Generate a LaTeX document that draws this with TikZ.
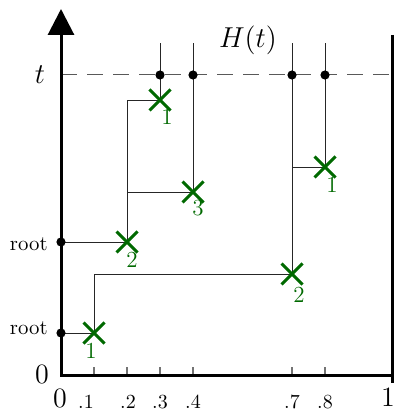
\documentclass[tikz,border=0pt]{standalone}
\usetikzlibrary{arrows.meta,shapes.misc}
\definecolor{tgreen}{RGB}{0,105,0}
\pgfdeclarelayer{bg}
\pgfsetlayers{bg,main}
\begin{document}
\begin{tikzpicture}[x=0.5pt,y=-0.5pt,
  xmark/.style={cross out,draw=tgreen,line width=1.5pt,inner sep=0pt,minimum size=9pt},
  hdot/.style={circle,fill=black,inner sep=0pt,minimum size=4.6pt},
  edge/.style={black!85,line width=0.45pt},
  tickline/.style={black!55,line width=0.6pt},
  axisline/.style={line width=1.5pt},
  glab/.style={text=tgreen,font=\fontsize{11.5}{13}\selectfont,anchor=base,inner sep=0pt},
  tlab/.style={font=\fontsize{10}{12}\selectfont,anchor=base,inner sep=0pt},
  biglab/.style={font=\fontsize{14}{16}\selectfont,anchor=base,inner sep=0pt},
  rootlab/.style={font=\fontsize{10.4}{12}\selectfont,anchor=base east,inner sep=0pt}]
\useasboundingbox (0,0) rectangle (395,410);

% axis coordinates
\coordinate (O) at (61,375);
\coordinate (Ytop) at (61,9);
\coordinate (Xend) at (392,375);
\coordinate (Rtop) at (392,35);
\coordinate (Rbot) at (392,383);
\coordinate (Dl) at (61,75);
\coordinate (Dr) at (392,75);

% crosses
\node[xmark] (c1) at (94,333) {};
\node[xmark] (c2) at (127,242) {};
\node[xmark] (c3) at (160,100) {};
\node[xmark] (c4) at (193,192) {};
\node[xmark] (c5) at (292,274) {};
\node[xmark] (c6) at (325,167) {};

% roots
\node[hdot] (r1) at (61,333) {};
\node[hdot] (r2) at (61,242) {};

% dots on the t line
\node[hdot] (h1) at (160,75) {};
\node[hdot] (h2) at (193,75) {};
\node[hdot] (h3) at (292,75) {};
\node[hdot] (h4) at (325,75) {};

% tops
\coordinate (u1) at (160,43);
\coordinate (u2) at (193,43);
\coordinate (u3) at (292,43);
\coordinate (u4) at (325,43);

% tick coordinates
\foreach \n/\x in {1/94,2/127,3/160,4/193,7/292,8/325}{
  \coordinate (tk\n) at (\x,375);
  \coordinate (tt\n) at (\x,367);
}

\begin{pgfonlayer}{bg}
  \draw[black!65,line width=0.5pt,dash pattern=on 8 off 5] (Dl) -- (Dr);
  \foreach \n in {1,2,3,4,7,8}{ \draw[tickline] (tk\n) -- (tt\n); }
  \draw[edge] (r1.center) -- (c1.center);
  \draw[edge] (c1.center) |- (c5.center);
  \draw[edge] (r2.center) -- (c2.center);
  \draw[edge] (c2.center) |- (c3.center);
  \draw[edge] (c2.center) |- (c4.center);
  \draw[edge] (c5.center) |- (c6.center);
  \draw[edge] (c3.center) -- (u1);
  \draw[edge] (c4.center) -- (u2);
  \draw[edge] (c5.center) -- (u3);
  \draw[edge] (c6.center) -- (u4);
\end{pgfonlayer}

\draw[axisline,-{Triangle[length=13pt,width=13pt]}] ([yshift=-0.75pt]O) -- (Ytop);
\draw[axisline] (O) -- (Xend);
\draw[axisline] (Rtop) -- (Rbot);

% labels
\node[biglab] (lt) at (40,84) {$t$};
\node[biglab] (lH) at (248,48) {$H(t)$};
\node[biglab] (l0y) at (42,383) {0};
\node[biglab] (l0x) at (60,407) {0};
\node[biglab] (l1x) at (388,406) {1};
\node[rootlab] (lr1) at (48,334) {root};
\node[rootlab] (lr2) at (48,250) {root};
\node[tlab] (x1) at (86,408) {.1};
\node[tlab] (x2) at (128,408) {.2};
\node[tlab] (x3) at (160,408) {.3};
\node[tlab] (x4) at (193,408) {.4};
\node[tlab] (x7) at (292,408) {.7};
\node[tlab] (x8) at (325,408) {.8};

\node[glab] (g1) at (91,358) {1};
\node[glab] (g2) at (132,267) {2};
\node[glab] (g3) at (167,125) {1};
\node[glab] (g4) at (198,216) {3};
\node[glab] (g5) at (299,302) {2};
\node[glab] (g6) at (332,193) {1};
\end{tikzpicture}
\end{document}
